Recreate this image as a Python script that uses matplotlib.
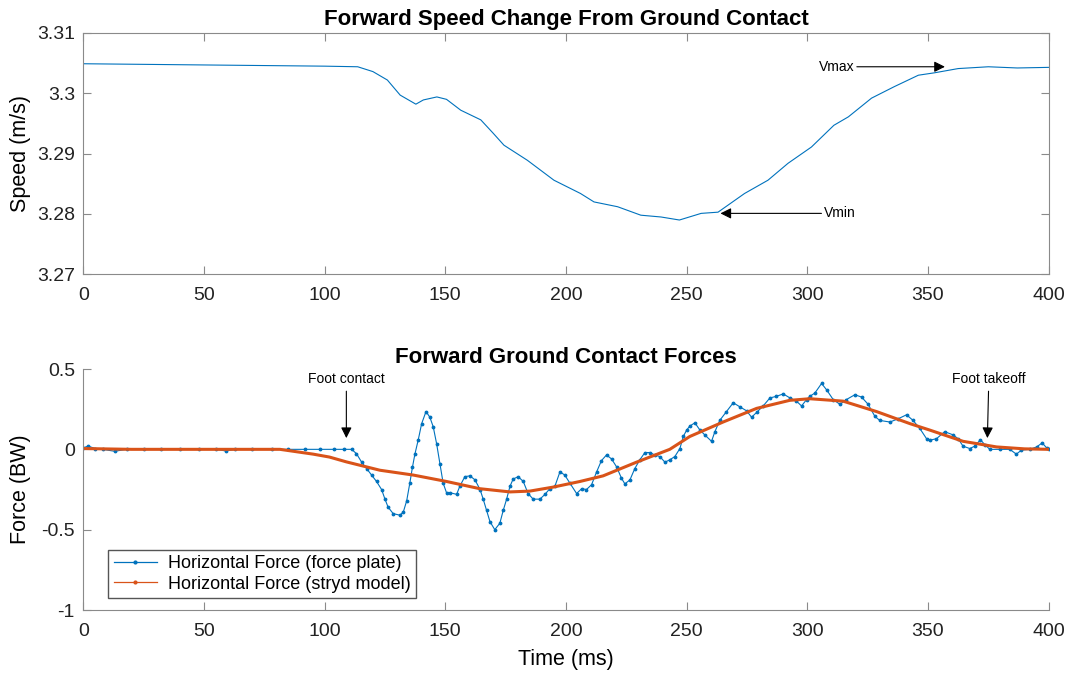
import matplotlib
matplotlib.use("Agg")
import matplotlib.pyplot as plt
from matplotlib.lines import Line2D

plt.rcParams['font.family'] = ['Liberation Sans', 'DejaVu Sans']

# speed trace (ms, m/s)
t_speed = [0, 50, 100, 113.7, 120, 126, 131.3, 137.8, 140.9, 146.5, 150.5, 156.4, 164.7,
           169.8, 174.3, 184, 195, 206, 211.6, 221.4, 231, 239.4, 247, 256, 263, 274,
           283.7, 292, 301.7, 311, 317, 326.6, 336, 346, 352.7, 362.5, 375, 387, 400]
speed = [3.3049, 3.3047, 3.3045, 3.3044, 3.3036, 3.3022, 3.2997, 3.2982, 3.2989, 3.2994,
         3.2990, 3.2972, 3.2956, 3.2934, 3.2914, 3.2889, 3.2856, 3.2834, 3.2820, 3.2812,
         3.2798, 3.2795, 3.2790, 3.2801, 3.2803, 3.2834, 3.2856, 3.2884, 3.2911, 3.2947,
         3.2961, 3.2992, 3.3011, 3.3030, 3.3034, 3.3041, 3.3044, 3.3042, 3.3043]

# horizontal force from the force plate (ms, BW)
t_plate = [0, 2, 5, 8, 13, 18, 25, 32, 40, 48, 55, 59, 63, 70, 78, 85, 92, 98, 104, 108,
           111.2, 113.2, 115.3, 117.4, 119.5, 121.5, 123.6, 125, 126.3, 128.4, 131.2, 132.6,
           134, 135.3, 136.4, 137.4, 138.8, 140.2, 142, 143.6, 145, 146.4, 147.8, 149.1,
           150.5, 151.9, 154.7, 156, 158.1, 160.2, 162.3, 164.4, 165.7, 167.1, 168.5, 170.5,
           172.6, 174, 175.4, 176.8, 178.1, 180.2, 182.3, 184.3, 186.4, 189.2, 191.3, 193.3,
           195.4, 197.5, 199.5, 201.6, 204.4, 206.5, 208.5, 210.6, 212.7, 214.7, 216.8, 218.9,
           221, 223, 224.4, 226.5, 228.5, 230.6, 232.7, 234.8, 236.8, 238.9, 241, 243, 245.1,
           247.2, 248.6, 250, 251.3, 253.4, 255.5, 257.5, 260.3, 261.7, 263.7, 266.5, 269.3,
           272, 274.8, 276.9, 279, 281.7, 284.5, 287.2, 290, 292.8, 295.5, 297.6, 299.7, 301,
           303.1, 305.9, 308, 310.7, 313.5, 316.2, 319.7, 322.5, 325.2, 328, 330, 334.2, 337.6,
           341.1, 343.8, 346.6, 349.4, 351, 353.5, 356.9, 360.4, 362.5, 364.5, 367.3, 369.4,
           371.7, 373.5, 375.6, 379.7, 383.9, 386.6, 388.7, 392.2, 395, 397.3, 399.1, 400]
f_plate = [0.01, 0.02, 0.005, 0, -0.012, 0, 0, 0, 0, 0, 0, -0.01, 0, 0, 0, 0, 0, 0, 0, 0,
           0, -0.027, -0.079, -0.12, -0.16, -0.20, -0.25, -0.31, -0.36, -0.40, -0.41, -0.39,
           -0.32, -0.21, -0.11, -0.03, 0.06, 0.16, 0.235, 0.20, 0.14, 0.035, -0.09, -0.21,
           -0.27, -0.27, -0.28, -0.23, -0.17, -0.165, -0.19, -0.25, -0.31, -0.38, -0.45, -0.50,
           -0.46, -0.38, -0.31, -0.23, -0.185, -0.17, -0.20, -0.275, -0.31, -0.31, -0.28, -0.245,
           -0.23, -0.14, -0.16, -0.21, -0.275, -0.245, -0.25, -0.22, -0.14, -0.07, -0.035, -0.06,
           -0.11, -0.18, -0.215, -0.19, -0.12, -0.065, -0.02, -0.02, -0.035, -0.045, -0.08, -0.065, -0.045,
           0.005, 0.08, 0.12, 0.145, 0.165, 0.12, 0.09, 0.05, 0.11, 0.18, 0.235, 0.29,
           0.265, 0.24, 0.20, 0.23, 0.27, 0.32, 0.33, 0.345, 0.32, 0.30, 0.27, 0.31, 0.33,
           0.35, 0.41, 0.37, 0.31, 0.28, 0.31, 0.34, 0.325, 0.28, 0.205, 0.18, 0.17, 0.19,
           0.215, 0.18, 0.13, 0.066, 0.058, 0.066, 0.11, 0.09, 0.066, 0.02, 0.005, 0.02,
           0.06, 0.03, 0, 0, 0, -0.03, -0.005, 0, 0.015, 0.04, 0.01, 0.0]

# stryd model horizontal force (ms, BW)
t_model = [0, 20, 40, 60, 70, 81.5, 95.3, 102, 109, 122.9, 136.7, 150.5, 164.3, 176.8, 185,
           194.7, 205.8, 215.4, 229.2, 243, 251.3, 265.1, 279, 292.7, 301, 314.8, 328.7,
           342.5, 350.7, 364.5, 378.4, 390, 400]
f_model = [0.005, 0, 0, 0, 0, 0, -0.03, -0.048, -0.078, -0.13, -0.16, -0.20, -0.245, -0.265,
           -0.26, -0.235, -0.20, -0.165, -0.08, 0, 0.08, 0.17, 0.255, 0.305, 0.315, 0.30,
           0.235, 0.16, 0.12, 0.05, 0.015, 0.003, 0]

blue = '#0072BD'
orange = '#D95319'
spine_c = '#8a8a8a'

fig = plt.figure(figsize=(10.69, 6.73), dpi=100)

# ---------------- top panel ----------------
ax1 = fig.add_axes([0.0779, 0.5924, 0.9031, 0.3586])
ax1.plot(t_speed, speed, color=blue, lw=0.8)
ax1.set_xlim(0, 400)
ax1.set_ylim(3.27, 3.31)
ax1.set_xticks(range(0, 401, 50))
ax1.set_yticks([3.27, 3.28, 3.29, 3.30, 3.31])
ax1.set_yticklabels(['3.27', '3.28', '3.29', '3.3', '3.31'])
ax1.set_ylabel('Speed (m/s)', fontsize=15.5)
ax1.yaxis.set_label_coords(-0.054, 0.5)
ax1.set_title('Forward Speed Change From Ground Contact', fontsize=16, fontweight='bold', pad=6)
ax1.tick_params(direction='in', top=True, right=True, labelsize=14, length=6,
                color=spine_c, labelcolor='#222222')
ax1.tick_params(axis='x', pad=9)
ax1.tick_params(axis='y', pad=6)
for s in ax1.spines.values():
    s.set_color(spine_c)

ax1.annotate('Vmax', xy=(357, 3.3044), xytext=(304.6, 3.3044), ha='left', va='center',
             fontsize=10, arrowprops=dict(arrowstyle='-|>', color='k', lw=0.8,
                                          mutation_scale=16, shrinkA=0, shrinkB=0))
ax1.annotate('Vmin', xy=(264, 3.2801), xytext=(307, 3.2801), ha='left', va='center',
             fontsize=10, arrowprops=dict(arrowstyle='-|>', color='k', lw=0.8,
                                          mutation_scale=16, shrinkA=0, shrinkB=0))

# ---------------- bottom panel ----------------
ax2 = fig.add_axes([0.0779, 0.0936, 0.9031, 0.3581])
ax2.plot(t_plate, f_plate, color=blue, lw=0.8, marker='.', ms=3.5)
ax2.plot(t_model, f_model, color=orange, lw=2.2)
ax2.set_xlim(0, 400)
ax2.set_ylim(-1, 0.5)
ax2.set_xticks(range(0, 401, 50))
ax2.set_yticks([-1, -0.5, 0, 0.5])
ax2.set_yticklabels(['-1', '-0.5', '0', '0.5'])
ax2.set_xlabel('Time (ms)', fontsize=15.5, labelpad=7)
ax2.set_ylabel('Force (BW)', fontsize=15.5)
ax2.yaxis.set_label_coords(-0.054, 0.5)
ax2.set_title('Forward Ground Contact Forces', fontsize=16, fontweight='bold', pad=4)
ax2.spines['top'].set_visible(False)
ax2.spines['right'].set_visible(False)
ax2.tick_params(direction='in', labelsize=14, length=6, color=spine_c, labelcolor='#222222')
ax2.tick_params(axis='x', pad=9)
ax2.tick_params(axis='y', pad=6)
for s in ax2.spines.values():
    s.set_color(spine_c)

ax2.annotate('Foot contact', xy=(109, 0.07), xytext=(109, 0.44), ha='center', va='center',
             fontsize=10, arrowprops=dict(arrowstyle='-|>', color='k', lw=0.8,
                                          mutation_scale=16, shrinkA=2, shrinkB=0))
ax2.annotate('Foot takeoff', xy=(374.6, 0.07), xytext=(375.2, 0.44), ha='center', va='center',
             fontsize=10, arrowprops=dict(arrowstyle='-|>', color='k', lw=0.8,
                                          mutation_scale=16, shrinkA=2, shrinkB=0))

handles = [Line2D([], [], color=blue, lw=0.9, marker='.', ms=4),
           Line2D([], [], color=orange, lw=0.9, marker='.', ms=4)]
ax2.legend(handles, ['Horizontal Force (force plate)', 'Horizontal Force (stryd model)'],
           loc='lower left', bbox_to_anchor=(0.026, 0.05), fontsize=13, fancybox=False,
           edgecolor='#555555', framealpha=1, borderpad=0.3, labelspacing=0.2,
           handlelength=2.4, handletextpad=0.6, borderaxespad=0)

fig.savefig('out.png', dpi=100)
